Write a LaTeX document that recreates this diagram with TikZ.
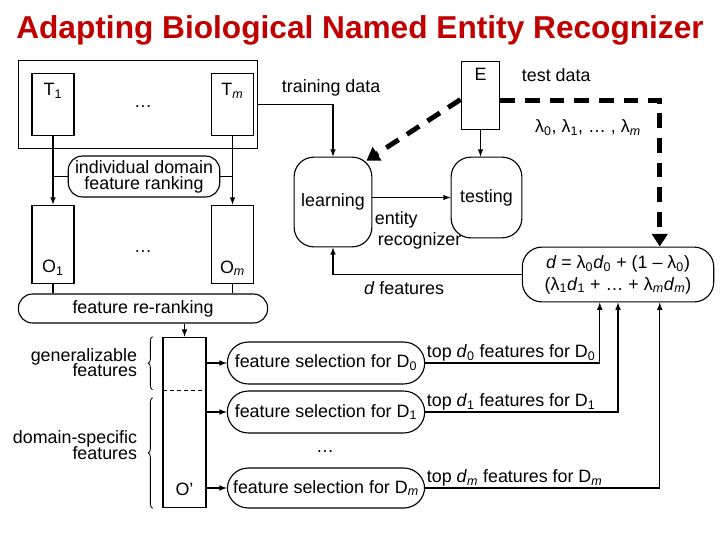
\documentclass[tikz,border=0pt]{standalone}
\usepackage{fontspec}
\setmainfont{Liberation Sans}
\usetikzlibrary{shapes,arrows,arrows.meta,positioning,calc,decorations.pathreplacing}
\definecolor{titlered}{RGB}{192,0,0}

\tikzset{
  box/.style={draw, line width=0.8pt, inner sep=0pt},
  pill/.style={draw, line width=0.8pt, rounded corners=#1, inner sep=0pt, align=center},
  pill/.default=14pt,
  wire/.style={line width=0.8pt},
  link/.style={line width=0.8pt, -latex},
  bigdash/.style={line width=3.5pt, dash pattern=on 10.5pt off 7pt, -{Triangle[length=9pt,width=11pt]}},
  curly/.style={line width=0.6pt, decorate, decoration={brace,amplitude=3pt}}
}

\begin{document}
\begin{tikzpicture}[x=0.025cm, y=-0.025cm, every node/.style={font=\fontsize{12.7}{15.5}\selectfont}]
    \useasboundingbox (0,0) rectangle (720,540);

    % Title
    \node[font=\fontsize{22.5}{27}\bfseries\selectfont, text=titlered] (title) at (360,30) {Adapting Biological Named Entity Recognizer};

    % Training domains
    \node[box, minimum width=170.1pt, minimum height=63.1pt] (train) at (138,104.5) {};
    \node[box, minimum width=29.8pt, minimum height=44.6pt, label={[anchor=north,inner sep=7.5pt]north:T\textsubscript{1}}] (T1) at (53,104.5) {};
    \node[box, minimum width=29.8pt, minimum height=44.6pt, label={[anchor=north,inner sep=7.5pt]north:T\textsubscript{\textit{m}}}] (Tm) at (232.5,104.5) {};
    \node (tdots) at (143,107) {\ldots};

    % Ranked lists
    \node[box, minimum width=29.8pt, minimum height=56pt, label={[anchor=south,inner sep=6pt]south:O\textsubscript{1}}] (O1) at (53,244.5) {};
    \node[box, minimum width=29.8pt, minimum height=56pt, label={[anchor=south,inner sep=6pt]south:O\textsubscript{\textit{m}}}] (Om) at (232.5,244.5) {};
    \node (odots) at (143,252) {\ldots};
    \node[pill=10pt, minimum width=107.7pt, minimum height=29.1pt] (rank) at (144,176.5) {individual domain\\[-4.2pt]feature ranking};
    \node[pill=10pt, minimum width=177.2pt, minimum height=20.6pt] (rerank) at (143,308.5) {feature re-ranking};

    % Re-ranked list
    \node[box, minimum width=30.5pt, minimum height=121.2pt, label={[anchor=south,inner sep=9pt]south:O’}] (Oprime) at (184.5,422.5) {};
    \node[align=right, anchor=east] (gen) at (142,362.5) {generalizable\\[-4.9pt]features};
    \node[align=right, anchor=east] (dom) at (142,445) {domain-specific\\[-4.2pt]features};

    % Feature selection
    \node[pill=14.8pt, minimum width=140.3pt, minimum height=29.8pt] (fs0) at (326,363) {feature selection for D\textsubscript{0}};
    \node[pill=14.8pt, minimum width=140.3pt, minimum height=29.8pt] (fs1) at (326,412) {feature selection for D\textsubscript{1}};
    \node[pill=14.8pt, minimum width=140.3pt, minimum height=28.4pt] (fsm) at (326,488) {feature selection for D\textsubscript{\textit{m}}};
    \node (fdots) at (325,452) {\ldots};

    % Evaluation data and recognizer
    \node[box, minimum width=27.6pt, minimum height=48.9pt, label={[anchor=north,inner sep=5.4pt]north:E}] (E) at (480.5,95.5) {};
    \node[pill, minimum width=55.3pt, minimum height=63.8pt] (learning) at (333,202) {learning};
    \node[pill, minimum width=50.3pt, minimum height=57.4pt] (testing) at (486.5,197.5) {testing};
    \node[pill, minimum width=136.1pt, minimum height=39pt] (mix) at (618,274.5) {\textit{d} = λ\textsubscript{0}\textit{d}\textsubscript{0} + (1 – λ\textsubscript{0})\\(λ\textsubscript{1}\textit{d}\textsubscript{1} + … + λ\textsubscript{\textit{m}}\textit{d}\textsubscript{\textit{m}})};

    % Labels
    \node[anchor=west] (trainlbl) at (277,88) {training data};
    \node[anchor=west] (testlbl) at (517,75) {test data};
    \node (lambdas) at (588,128) {λ\textsubscript{0}, λ\textsubscript{1}, … , λ\textsubscript{\textit{m}}};
    \node[anchor=west, align=left] (erlbl) at (370,230.5) {entity\\[-0.6pt]\,recognizer};
    \node (dlbl) at (404,288) {\textit{d} features};

    % Connectors on the left
    \draw[link] (T1.south) -- (O1.north);
    \draw[link] (Tm.south) -- (Om.north);
    \draw[wire] (rank.west) -- (rank.west -| T1.south);
    \draw[wire] (rank.east) -- (rank.east -| Tm.south);
    \draw[wire] (O1.south) -- (O1.south |- rerank.north);
    \draw[wire] (Om.south) -- (Om.south |- rerank.north);
    \draw[link] (Oprime.north |- rerank.south) -- (Oprime.north);
    \draw[wire, dash pattern=on 3pt off 2pt] ($(Oprime.north west)+(0,54)$) -- ($(Oprime.north east)+(0,54)$);
    \draw[curly] ($(Oprime.north west)+(-10,53)$) -- ($(Oprime.north west)+(-10,0)$);
    \draw[curly] ($(Oprime.south west)+(-10,0)$) -- ($(Oprime.north west)+(-10,61)$);
    \foreach \n in {fs0,fs1,fsm}
        \draw[link] (Oprime.east |- \n.west) -- (\n.west);

    % Selected features up to the mixture
    \draw[link] (fs0.east) -| ($(mix.south west)+(78,0)$);
    \draw[link] (fs1.east) -| (mix.south);
    \draw[link] (fsm.east) -| ($(mix.south west)+(138,0)$);
    \node[anchor=south west, inner sep=1pt] (top0) at (fs0.east) {top \textit{d}\textsubscript{0} features for D\textsubscript{0}};
    \node[anchor=south west, inner sep=1pt] (top1) at (fs1.east) {top \textit{d}\textsubscript{1} features for D\textsubscript{1}};
    \node[anchor=south west, inner sep=1pt] (topm) at (fsm.east) {top \textit{d}\textsubscript{\textit{m}} features for D\textsubscript{\textit{m}}};

    % Learning and testing
    \draw[link] (train.east) -| (learning.north);
    \draw[link] (E.south) -- (E.south |- testing.north);
    \draw[link] (learning.east |- testing.west) -- (testing.west);
    \draw[link] (mix.west) -| (learning.south);
    \draw[bigdash] ($(E.west)+(0,4)$) -- ($(learning.north east)+(-6,4)$);
    \draw[bigdash] ($(E.east)+(0,5)$) -| ($(mix.north west)+(138,0)$);
\end{tikzpicture}
\end{document}
